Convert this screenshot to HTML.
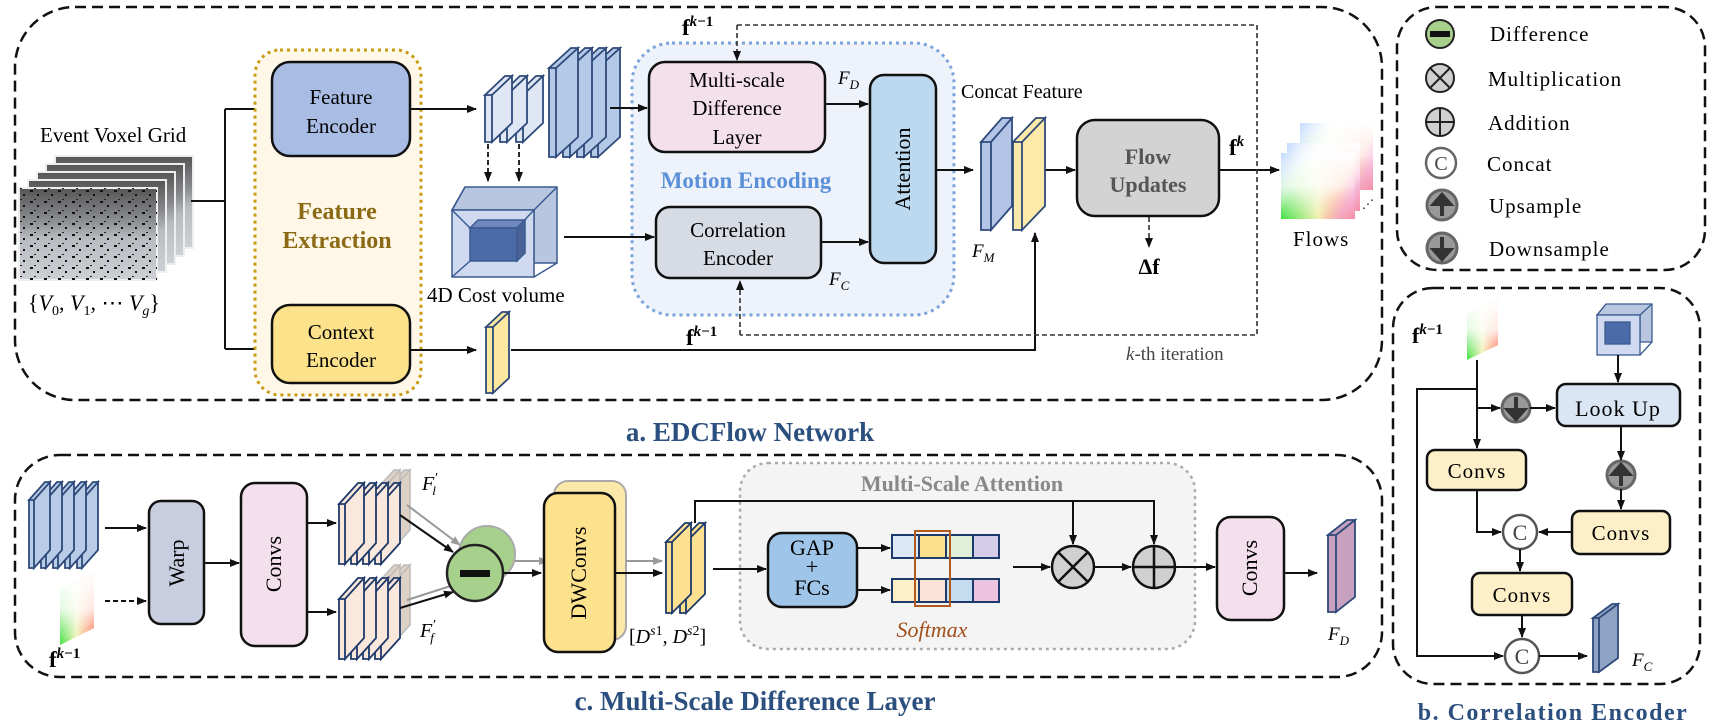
<!DOCTYPE html>
<html><head><meta charset="utf-8"><style>html,body{margin:0;padding:0;background:#fff}svg{display:block}</style></head>
<body>
<svg width="1712" height="724" viewBox="0 0 1712 724" xmlns="http://www.w3.org/2000/svg" font-family="'Liberation Serif', serif">
<defs>
<marker id="a" viewBox="0 0 10 10" refX="9" refY="5" markerWidth="10" markerHeight="10" markerUnits="userSpaceOnUse" orient="auto"><path d="M0,1 L10,5 L0,9 z" fill="#111"/></marker>
<marker id="g" viewBox="0 0 10 10" refX="9" refY="5" markerWidth="10" markerHeight="10" markerUnits="userSpaceOnUse" orient="auto"><path d="M0,1 L10,5 L0,9 z" fill="#999"/></marker>
<linearGradient id="vox" x1="0" y1="0" x2="0" y2="1"><stop offset="0" stop-color="#555"/><stop offset="0.35" stop-color="#8a8c90"/><stop offset="0.55" stop-color="#b8bcc0"/><stop offset="1" stop-color="#cdd0d4"/></linearGradient>
<pattern id="spk" width="14" height="11" patternUnits="userSpaceOnUse"><rect x="2" y="3" width="3" height="2" fill="#111"/><rect x="9" y="7" width="2" height="2" fill="#111"/><rect x="6" y="1" width="2" height="1" fill="#222"/></pattern>
<linearGradient id="fh" x1="0" y1="0" x2="1" y2="0"><stop offset="0" stop-color="#40e040"/><stop offset="0.5" stop-color="#f0f0b0"/><stop offset="1" stop-color="#ff5a3a"/></linearGradient>
<linearGradient id="fv" x1="0" y1="0" x2="0" y2="1"><stop offset="0" stop-color="#fff" stop-opacity="1"/><stop offset="0.5" stop-color="#fff" stop-opacity="0.85"/><stop offset="1" stop-color="#fff" stop-opacity="0"/></linearGradient>
<linearGradient id="ftl" x1="0" y1="0" x2="1" y2="0.6"><stop offset="0" stop-color="#a8c8ff" stop-opacity="0.7"/><stop offset="0.4" stop-color="#fff" stop-opacity="0"/><stop offset="0.8" stop-color="#ffd0f0" stop-opacity="0"/><stop offset="1" stop-color="#f0b0f0" stop-opacity="0.6"/></linearGradient>
</defs>

<!-- ===== Section a ===== -->
<rect x="15" y="7" width="1367" height="393" rx="60" fill="none" stroke="#111" stroke-width="2.5" stroke-dasharray="11 6"/>

<text x="40" y="142" font-size="21">Event Voxel Grid</text>
<g stroke="#eee" stroke-width="2">
<rect x="55" y="156" width="138" height="92" fill="url(#vox)"/>
<rect x="46" y="164" width="138" height="92" fill="url(#vox)"/>
<rect x="37" y="172" width="138" height="92" fill="url(#vox)"/>
<rect x="28" y="180" width="138" height="92" fill="url(#vox)"/>
<rect x="19" y="188" width="138" height="92" fill="url(#vox)"/>
<rect x="19" y="188" width="138" height="92" fill="url(#spk)" stroke="none"/>
</g>
<text x="28" y="310" font-size="22">{<tspan font-style="italic">V</tspan><tspan font-size="14" dy="5">0</tspan><tspan dy="-5">, </tspan><tspan font-style="italic">V</tspan><tspan font-size="14" dy="5">1</tspan><tspan dy="-5">, ⋯ </tspan><tspan font-style="italic">V</tspan><tspan font-size="14" dy="5" font-style="italic">g</tspan><tspan dy="-5">}</tspan></text>

<g stroke="#111" stroke-width="2" fill="none">
<path d="M191,201 H225 M225,109 V349"/>
<path d="M225,109 H270" marker-end="url(#a)"/>
<path d="M225,349 H270" marker-end="url(#a)"/>
</g>

<rect x="255" y="50" width="166" height="345" rx="25" fill="#fff8e8" stroke="#c89a10" stroke-width="3" stroke-dasharray="3 4"/>
<rect x="272" y="62" width="138" height="94" rx="18" fill="#a8bce4" stroke="#111" stroke-width="2.5"/>
<text x="341" y="104" font-size="21" text-anchor="middle">Feature</text>
<text x="341" y="133" font-size="21" text-anchor="middle">Encoder</text>
<text x="337" y="219" font-size="24" font-weight="bold" fill="#8a6a14" text-anchor="middle">Feature</text>
<text x="337" y="248" font-size="24" font-weight="bold" fill="#8a6a14" text-anchor="middle">Extraction</text>
<rect x="272" y="305" width="138" height="78" rx="18" fill="#fde28c" stroke="#111" stroke-width="2.5"/>
<text x="341" y="339" font-size="21" text-anchor="middle">Context</text>
<text x="341" y="367" font-size="21" text-anchor="middle">Encoder</text>

<g stroke="#111" stroke-width="2" fill="none">
<path d="M410,109 H476" marker-end="url(#a)"/>
<path d="M410,350 H476" marker-end="url(#a)"/>
</g>

<g stroke="#2e4a7a" stroke-width="1.8" fill="#dfe6f4">
<path d="M516,95 h7 v47 h-7 z m0,0 l20,-19 h7 l-20,19 z m7,0 l20,-19 v47 l-20,19 z"/>
<path d="M500,95 h7 v47 h-7 z m0,0 l20,-19 h7 l-20,19 z m7,0 l20,-19 v47 l-20,19 z"/>
<path d="M485,95 h7 v47 h-7 z m0,0 l20,-19 h7 l-20,19 z m7,0 l20,-19 v47 l-20,19 z"/>
</g>
<g stroke="#2e4a7a" stroke-width="1.8" fill="#b4c8e8">
<path d="M591,68 h7 v89 h-7 z m0,0 l22,-20 h7 l-22,20 z m7,0 l22,-20 v89 l-22,20 z"/>
<path d="M577,68 h7 v89 h-7 z m0,0 l22,-20 h7 l-22,20 z m7,0 l22,-20 v89 l-22,20 z"/>
<path d="M563,68 h7 v89 h-7 z m0,0 l22,-20 h7 l-22,20 z m7,0 l22,-20 v89 l-22,20 z"/>
<path d="M549,68 h7 v89 h-7 z m0,0 l22,-20 h7 l-22,20 z m7,0 l22,-20 v89 l-22,20 z"/>
</g>
<g stroke="#111" stroke-width="1.8" stroke-dasharray="5 3" fill="none">
<path d="M488,144 V181" marker-end="url(#a)"/>
<path d="M519,144 V181" marker-end="url(#a)"/>
</g>

<g stroke="#3a5a90" stroke-width="1.5">
<path d="M465,187 H557 V263 H534 V210 H452 Z" fill="#b8c6e0"/>
<rect x="452" y="210" width="82" height="67" fill="#cfdaf0"/>
<path d="M452,210 L465,187 M534,210 L557,187 M534,277 L557,263 M452,277 L470,261 M534,210 L517,228 M452,210 L470,228" fill="none"/>
<path d="M470,228 L478,220 H525 L517,228 Z" fill="#7088c0"/>
<path d="M517,228 L525,220 V253 L517,261 Z" fill="#4a6298"/>
<rect x="470" y="228" width="47" height="33" fill="#4a6aa8"/>
</g>
<text x="427" y="302" font-size="21">4D Cost volume</text>

<path d="M486,327 h7 v66 h-7 z m0,0 l16,-15 h7 l-16,15 z m7,0 l16,-15 v66 l-16,15 z" fill="#fde8a0" stroke="#2e4a7a" stroke-width="1.8"/>

<rect x="632" y="43" width="322" height="272" rx="40" fill="#eef3fb" stroke="#7ba4dc" stroke-width="3" stroke-dasharray="3 4"/>
<rect x="649" y="62" width="176" height="90" rx="16" fill="#f4e0ea" stroke="#111" stroke-width="2.5"/>
<text x="737" y="87" font-size="21" text-anchor="middle">Multi-scale</text>
<text x="737" y="115" font-size="21" text-anchor="middle">Difference</text>
<text x="737" y="144" font-size="21" text-anchor="middle">Layer</text>
<text x="746" y="188" font-size="23" font-weight="bold" fill="#5b8fd8" text-anchor="middle">Motion Encoding</text>
<rect x="656" y="207" width="165" height="71" rx="14" fill="#d6dbe4" stroke="#111" stroke-width="2.5"/>
<text x="738" y="237" font-size="21" text-anchor="middle">Correlation</text>
<text x="738" y="265" font-size="21" text-anchor="middle">Encoder</text>
<rect x="870" y="75" width="66" height="188" rx="14" fill="#bcd9f0" stroke="#111" stroke-width="2.5"/>
<text x="903" y="176" font-size="22" text-anchor="middle" transform="rotate(-90 903 169)">Attention</text>
<text x="838" y="84" font-size="19" font-style="italic">F<tspan font-size="13" dy="5">D</tspan></text>
<text x="829" y="285" font-size="19" font-style="italic">F<tspan font-size="13" dy="5">C</tspan></text>

<g stroke="#111" stroke-width="2" fill="none">
<path d="M610,108 H647" marker-end="url(#a)"/>
<path d="M564,237 H654" marker-end="url(#a)"/>
<path d="M825,104 H868" marker-end="url(#a)"/>
<path d="M821,242 H868" marker-end="url(#a)"/>
<path d="M936,170 H973" marker-end="url(#a)"/>
<path d="M511,350 H1035 V233" marker-end="url(#a)"/>
<path d="M1045,170 H1075" marker-end="url(#a)"/>
<path d="M1219,170 H1279" marker-end="url(#a)"/>
</g>

<g stroke="#333" stroke-width="1.6" stroke-dasharray="5 3" fill="none">
<path d="M737,25 H1257 V335 H740"/>
<path d="M737,25 V60" marker-end="url(#a)"/>
<path d="M740,335 V281" marker-end="url(#a)"/>
<path d="M1149,217 V247" marker-end="url(#a)"/>
</g>
<text x="682" y="35" font-size="23" font-weight="bold">f<tspan font-size="15" dy="-9" font-style="italic">k</tspan><tspan font-size="15">−1</tspan></text>
<text x="686" y="345" font-size="23" font-weight="bold">f<tspan font-size="15" dy="-9" font-style="italic">k</tspan><tspan font-size="15">−1</tspan></text>

<text x="961" y="98" font-size="20">Concat Feature</text>
<path d="M981,142 h10 v88 h-10 z m0,0 l21,-24 h10 l-21,24 z m10,0 l21,-24 v88 l-21,24 z" fill="#b4c4e6" stroke="#2e4a7a" stroke-width="1.8"/>
<path d="M1013,142 h9 v88 h-9 z m0,0 l23,-24 h9 l-23,24 z m9,0 l23,-24 v88 l-23,24 z" fill="#feeaa8" stroke="#2e4a7a" stroke-width="1.8"/>
<text x="972" y="257" font-size="19" font-style="italic">F<tspan font-size="13" dy="5">M</tspan></text>

<rect x="1077" y="120" width="142" height="96" rx="18" fill="#d3d3d3" stroke="#111" stroke-width="2.5"/>
<text x="1148" y="164" font-size="22" font-weight="bold" fill="#555" text-anchor="middle">Flow</text>
<text x="1148" y="192" font-size="22" font-weight="bold" fill="#555" text-anchor="middle">Updates</text>
<text x="1149" y="274" font-size="22" font-weight="bold" text-anchor="middle">Δf</text>
<text x="1229" y="155" font-size="23" font-weight="bold">f<tspan font-size="15" dy="-9" font-style="italic">k</tspan></text>
<text x="1126" y="360" font-size="19" fill="#444"><tspan font-style="italic">k</tspan>-th iteration</text>

<g>
<rect x="1300" y="123" width="73" height="67" fill="url(#fh)"/><rect x="1300" y="123" width="73" height="67" fill="url(#fv)"/><rect x="1300" y="123" width="73" height="67" fill="url(#ftl)"/>
<rect x="1287" y="143" width="73" height="68" fill="url(#fh)"/><rect x="1287" y="143" width="73" height="68" fill="url(#fv)"/><rect x="1287" y="143" width="73" height="68" fill="url(#ftl)"/>
<rect x="1281" y="153" width="74" height="66" fill="url(#fh)"/><rect x="1281" y="153" width="74" height="66" fill="url(#fv)"/><rect x="1281" y="153" width="74" height="66" fill="url(#ftl)"/>
</g>
<text x="1362" y="208" font-size="12">⋰</text>
<text x="1293" y="246" font-size="21" letter-spacing="1">Flows</text>

<text x="750" y="441" font-size="27" font-weight="bold" fill="#2b4f7e" text-anchor="middle">a. EDCFlow Network</text>

<rect x="1397" y="7" width="308" height="263" rx="40" fill="none" stroke="#111" stroke-width="2.5" stroke-dasharray="11 6"/>
<circle cx="1440" cy="34" r="14" fill="#a8d08d" stroke="#222" stroke-width="2"/><rect x="1430" y="31" width="20" height="6" fill="#111"/>
<circle cx="1440" cy="78" r="14" fill="#d0d0d0" stroke="#222" stroke-width="2"/><path d="M1430,68 L1450,88 M1450,68 L1430,88" stroke="#222" stroke-width="2"/>
<circle cx="1440" cy="122" r="14" fill="#d0d0d0" stroke="#222" stroke-width="2"/><path d="M1426,122 H1454 M1440,108 V136" stroke="#222" stroke-width="2"/>
<circle cx="1441" cy="163" r="15" fill="#fff" stroke="#666" stroke-width="2.5"/><text x="1441" y="170" font-size="20" text-anchor="middle" fill="#444">C</text>
<circle cx="1442" cy="205" r="15" fill="#999" stroke="#666" stroke-width="3"/><path d="M1442,216 V198 M1434,204 L1442,195 L1450,204 Z" stroke="#333" stroke-width="4" fill="#333"/>
<circle cx="1442" cy="248" r="15" fill="#999" stroke="#666" stroke-width="3"/><path d="M1442,237 V255 M1434,250 L1442,259 L1450,250 Z" stroke="#333" stroke-width="4" fill="#333"/>
<g font-size="21" letter-spacing="1">
<text x="1490" y="41">Difference</text>
<text x="1488" y="86">Multiplication</text>
<text x="1488" y="130">Addition</text>
<text x="1487" y="171">Concat</text>
<text x="1489" y="213">Upsample</text>
<text x="1489" y="256">Downsample</text>
</g>

<rect x="1393" y="288" width="307" height="396" rx="40" fill="none" stroke="#111" stroke-width="2.5" stroke-dasharray="11 6"/>
<text x="1412" y="343" font-size="22" font-weight="bold">f<tspan font-size="15" dy="-9" font-style="italic">k</tspan><tspan font-size="15">−1</tspan></text>
<g>
<path d="M1467,315 L1498,300 V345 L1467,360 Z" fill="url(#fh)"/><path d="M1467,315 L1498,300 V345 L1467,360 Z" fill="url(#fv)"/>
</g>
<g stroke="#3a5a90" stroke-width="1.3">
<path d="M1606,304 H1652 V342 H1640 V315 H1597 Z" fill="#b8c6e0"/>
<rect x="1597" y="315" width="43" height="40" fill="#cfdaf0"/>
<path d="M1597,315 L1606,304 M1640,315 L1652,304 M1640,355 L1652,342" fill="none"/>
<rect x="1605" y="322" width="25" height="22" fill="#4a6aa8"/>
</g>
<rect x="1557" y="384" width="123" height="42" rx="9" fill="#dae6f4" stroke="#111" stroke-width="2.5"/>
<text x="1618" y="416" font-size="22" text-anchor="middle" letter-spacing="1">Look Up</text>
<rect x="1427" y="450" width="99" height="40" rx="8" fill="#fdf0c8" stroke="#111" stroke-width="2.5"/>
<text x="1477" y="478" font-size="21" text-anchor="middle" letter-spacing="1">Convs</text>
<rect x="1572" y="511" width="98" height="43" rx="8" fill="#fdf0c8" stroke="#111" stroke-width="2.5"/>
<text x="1621" y="540" font-size="21" text-anchor="middle" letter-spacing="1">Convs</text>
<rect x="1472" y="573" width="100" height="42" rx="8" fill="#fdf0c8" stroke="#111" stroke-width="2.5"/>
<text x="1522" y="602" font-size="21" text-anchor="middle" letter-spacing="1">Convs</text>
<circle cx="1516" cy="408" r="14" fill="#999" stroke="#666" stroke-width="3"/><path d="M1516,397 V415 M1508,410 L1516,419 L1524,410 Z" stroke="#333" stroke-width="4" fill="#333"/>
<circle cx="1621" cy="475" r="14" fill="#999" stroke="#666" stroke-width="3"/><path d="M1621,486 V468 M1613,474 L1621,465 L1629,474 Z" stroke="#333" stroke-width="4" fill="#333"/>
<circle cx="1520" cy="532" r="17" fill="#fff" stroke="#555" stroke-width="2.5"/><text x="1520" y="540" font-size="22" text-anchor="middle" fill="#444">C</text>
<circle cx="1522" cy="656" r="17" fill="#fff" stroke="#555" stroke-width="2.5"/><text x="1522" y="664" font-size="22" text-anchor="middle" fill="#444">C</text>
<g stroke="#111" stroke-width="2" fill="none">
<path d="M1618,355 V382" marker-end="url(#a)"/>
<path d="M1477,360 V448" marker-end="url(#a)"/>
<path d="M1477,389 H1417 V656 H1503" marker-end="url(#a)"/>
<path d="M1477,408 H1500" marker-end="url(#a)"/>
<path d="M1530,408 H1555" marker-end="url(#a)"/>
<path d="M1621,426 V460" marker-end="url(#a)"/>
<path d="M1621,489 V509" marker-end="url(#a)"/>
<path d="M1477,490 V532 H1501" marker-end="url(#a)"/>
<path d="M1572,532 H1539" marker-end="url(#a)"/>
<path d="M1520,549 V571" marker-end="url(#a)"/>
<path d="M1522,615 V637" marker-end="url(#a)"/>
<path d="M1539,656 H1587" marker-end="url(#a)"/>
</g>
<path d="M1593,618 h6 v54 h-6 z m0,0 l19,-14 h6 l-19,14 z m6,0 l19,-14 v54 l-19,14 z" fill="#8fa3c4" stroke="#2e4a7a" stroke-width="1.8"/>
<text x="1632" y="666" font-size="19" font-style="italic">F<tspan font-size="13" dy="5">C</tspan></text>
<text x="1553" y="720" font-size="24" font-weight="bold" fill="#2b4f7e" text-anchor="middle" letter-spacing="1.5">b. Correlation Encoder</text>

<rect x="15" y="455" width="1367" height="222" rx="45" fill="none" stroke="#111" stroke-width="2.5" stroke-dasharray="11 6"/>
<g stroke="#2e4a7a" stroke-width="1.8" fill="#b8cce8">
<path d="M77,500 h5 v68 h-5 z m0,0 l16,-18 h5 l-16,18 z m5,0 l16,-18 v68 l-16,18 z"/>
<path d="M65,500 h5 v68 h-5 z m0,0 l16,-18 h5 l-16,18 z m5,0 l16,-18 v68 l-16,18 z"/>
<path d="M53,500 h5 v68 h-5 z m0,0 l16,-18 h5 l-16,18 z m5,0 l16,-18 v68 l-16,18 z"/>
<path d="M41,500 h5 v68 h-5 z m0,0 l16,-18 h5 l-16,18 z m5,0 l16,-18 v68 l-16,18 z"/>
<path d="M29,500 h5 v68 h-5 z m0,0 l16,-18 h5 l-16,18 z m5,0 l16,-18 v68 l-16,18 z"/>
</g>
<path d="M60,590 L94,573 V628 L60,645 Z" fill="url(#fh)"/><path d="M60,590 L94,573 V628 L60,645 Z" fill="url(#fv)"/>
<text x="49" y="667" font-size="23" font-weight="bold">f<tspan font-size="15" dy="-9" font-style="italic">k</tspan><tspan font-size="15">−1</tspan></text>
<g stroke="#111" stroke-width="2" fill="none">
<path d="M105,528 H146" marker-end="url(#a)"/>
<path d="M105,601 H146" stroke-dasharray="5 3" marker-end="url(#a)"/>
<path d="M204,563 H239" marker-end="url(#a)"/>
<path d="M307,523 H336" marker-end="url(#a)"/>
<path d="M307,612 H336" marker-end="url(#a)"/>
</g>
<rect x="149" y="501" width="55" height="123" rx="12" fill="#c9cde0" stroke="#111" stroke-width="2.5"/>
<text x="177" y="570" font-size="22" text-anchor="middle" transform="rotate(-90 177 563)">Warp</text>
<rect x="241" y="483" width="66" height="163" rx="14" fill="#f4e0ec" stroke="#111" stroke-width="2.5"/>
<text x="274" y="571" font-size="22" text-anchor="middle" transform="rotate(-90 274 564)">Convs</text>

<g stroke="#bbb" stroke-width="1.5" fill="#ddd0c4">
<path d="M385,491 h6 v60 h-6 z m0,0 l19,-21 h6 l-19,21 z m6,0 l19,-21 v60 l-19,21 z"/>
<path d="M375,491 h6 v60 h-6 z m0,0 l19,-21 h6 l-19,21 z m6,0 l19,-21 v60 l-19,21 z"/>
<path d="M385,586 h6 v60 h-6 z m0,0 l19,-21 h6 l-19,21 z m6,0 l19,-21 v60 l-19,21 z"/>
<path d="M375,586 h6 v60 h-6 z m0,0 l19,-21 h6 l-19,21 z m6,0 l19,-21 v60 l-19,21 z"/>
</g>
<g stroke="#1e3a6a" stroke-width="1.8" fill="#fbe8dc">
<path d="M375,504 h6 v60 h-6 z m0,0 l19,-21 h6 l-19,21 z m6,0 l19,-21 v60 l-19,21 z"/>
<path d="M363,504 h6 v60 h-6 z m0,0 l19,-21 h6 l-19,21 z m6,0 l19,-21 v60 l-19,21 z"/>
<path d="M351,504 h6 v60 h-6 z m0,0 l19,-21 h6 l-19,21 z m6,0 l19,-21 v60 l-19,21 z"/>
<path d="M339,504 h6 v60 h-6 z m0,0 l19,-21 h6 l-19,21 z m6,0 l19,-21 v60 l-19,21 z"/>
<path d="M375,599 h6 v60 h-6 z m0,0 l19,-21 h6 l-19,21 z m6,0 l19,-21 v60 l-19,21 z"/>
<path d="M363,599 h6 v60 h-6 z m0,0 l19,-21 h6 l-19,21 z m6,0 l19,-21 v60 l-19,21 z"/>
<path d="M351,599 h6 v60 h-6 z m0,0 l19,-21 h6 l-19,21 z m6,0 l19,-21 v60 l-19,21 z"/>
<path d="M339,599 h6 v60 h-6 z m0,0 l19,-21 h6 l-19,21 z m6,0 l19,-21 v60 l-19,21 z"/>
</g>
<text x="422" y="490" font-size="20" font-style="italic">F<tspan font-size="14" dy="-8">′</tspan><tspan font-size="13" dx="-5" dy="13">l</tspan></text>
<text x="420" y="637" font-size="20" font-style="italic">F<tspan font-size="14" dy="-8">′</tspan><tspan font-size="13" dx="-5" dy="13">f</tspan></text>
<g fill="none" stroke-width="2">
<path d="M407,505 L460,545" stroke="#999" marker-end="url(#g)"/>
<path d="M407,600 L460,583" stroke="#999" marker-end="url(#g)"/>
<path d="M400,515 L453,552" stroke="#111" marker-end="url(#a)"/>
<path d="M400,608 L453,592" stroke="#111" marker-end="url(#a)"/>
<path d="M510,561 H548" stroke="#999" marker-end="url(#g)"/>
</g>
<circle cx="487" cy="554" r="28" fill="#a8d08d" stroke="#aaa" stroke-width="2"/>
<circle cx="475" cy="573" r="28" fill="#a8d08d" stroke="#222" stroke-width="2.5"/>
<rect x="460" y="570" width="30" height="7" fill="#111"/>
<path d="M503,573 H541" stroke="#111" stroke-width="2" marker-end="url(#a)"/>
<rect x="554" y="481" width="72" height="159" rx="14" fill="#fce8a8" stroke="#aaa" stroke-width="2"/>
<rect x="544" y="493" width="71" height="159" rx="14" fill="#fde28e" stroke="#111" stroke-width="2.5"/>
<text x="579" y="580" font-size="22" text-anchor="middle" transform="rotate(-90 579 573)">DWConvs</text>
<path d="M626,561 H662" stroke="#999" stroke-width="2" marker-end="url(#g)"/>
<path d="M615,573 H662" stroke="#111" stroke-width="2" marker-end="url(#a)"/>
<g stroke="#1e3a6a" stroke-width="1.8" fill="#fde090">
<path d="M680,542 h6 v71 h-6 z m0,0 l19,-19 h6 l-19,19 z m6,0 l19,-19 v71 l-19,19 z"/>
<path d="M666,542 h6 v71 h-6 z m0,0 l19,-19 h6 l-19,19 z m6,0 l19,-19 v71 l-19,19 z"/>
</g>
<text x="629" y="643" font-size="20">[<tspan font-style="italic">D</tspan><tspan font-size="14" dy="-8" font-style="italic">s</tspan><tspan font-size="14">1</tspan><tspan dy="8">, </tspan><tspan font-style="italic">D</tspan><tspan font-size="14" dy="-8" font-style="italic">s</tspan><tspan font-size="14">2</tspan><tspan dy="8">]</tspan></text>

<rect x="740" y="463" width="455" height="186" rx="28" fill="#f4f4f4" stroke="#aaa" stroke-width="2.5" stroke-dasharray="3 4"/>
<text x="962" y="491" font-size="22" font-weight="bold" fill="#888" text-anchor="middle">Multi-Scale Attention</text>
<g stroke="#111" stroke-width="2" fill="none">
<path d="M695,523 V501 H1154 V544" marker-end="url(#a)"/>
<path d="M1073,501 V544" marker-end="url(#a)"/>
<path d="M713,569 H766" marker-end="url(#a)"/>
<path d="M857,548 H890" marker-end="url(#a)"/>
<path d="M857,590 H890" marker-end="url(#a)"/>
<path d="M1013,567 H1050" marker-end="url(#a)"/>
<path d="M1094,567 H1131" marker-end="url(#a)"/>
<path d="M1175,567 H1215" marker-end="url(#a)"/>
<path d="M1284,573 H1317" marker-end="url(#a)"/>
</g>
<rect x="768" y="533" width="89" height="74" rx="14" fill="#9fc5e8" stroke="#111" stroke-width="2.5"/>
<text x="812" y="555" font-size="22" text-anchor="middle">GAP</text>
<text x="812" y="574" font-size="22" text-anchor="middle">+</text>
<text x="812" y="595" font-size="22" text-anchor="middle">FCs</text>
<g stroke="#1e3a6a" stroke-width="2">
<rect x="892" y="535" width="27" height="23" fill="#dce8f6"/><rect x="919" y="535" width="27" height="23" fill="#fde08c"/><rect x="946" y="535" width="27" height="23" fill="#e0efd8"/><rect x="973" y="535" width="26" height="23" fill="#d4cce8"/>
<rect x="892" y="579" width="27" height="23" fill="#fdf0c8"/><rect x="919" y="579" width="27" height="23" fill="#fbe2d8"/><rect x="946" y="579" width="27" height="23" fill="#c4dcf0"/><rect x="973" y="579" width="26" height="23" fill="#ecc4e0"/>
</g>
<rect x="915" y="531" width="35" height="75" fill="none" stroke="#b05a20" stroke-width="2"/>
<text x="932" y="637" font-size="22" font-style="italic" fill="#a0501a" text-anchor="middle">Softmax</text>
<circle cx="1073" cy="567" r="21" fill="#d0d0d0" stroke="#111" stroke-width="2.5"/><path d="M1058,552 L1088,582 M1088,552 L1058,582" stroke="#111" stroke-width="2.5"/>
<circle cx="1154" cy="567" r="21" fill="#d0d0d0" stroke="#111" stroke-width="2.5"/><path d="M1133,567 H1175 M1154,546 V588" stroke="#111" stroke-width="2.5"/>
<rect x="1217" y="517" width="67" height="103" rx="14" fill="#f4e0ec" stroke="#111" stroke-width="2.5"/>
<text x="1250" y="575" font-size="22" text-anchor="middle" transform="rotate(-90 1250 568)">Convs</text>
<path d="M1328,535 h8 v77 h-8 z m0,0 l19,-15 h8 l-19,15 z m8,0 l19,-15 v77 l-19,15 z" fill="#c8a0c0" stroke="#2e4a7a" stroke-width="1.8"/>
<text x="1328" y="640" font-size="19" font-style="italic">F<tspan font-size="13" dy="5">D</tspan></text>

<text x="755" y="710" font-size="27" font-weight="bold" fill="#2b4f7e" text-anchor="middle">c. Multi-Scale Difference Layer</text>
</svg>
</body></html>
